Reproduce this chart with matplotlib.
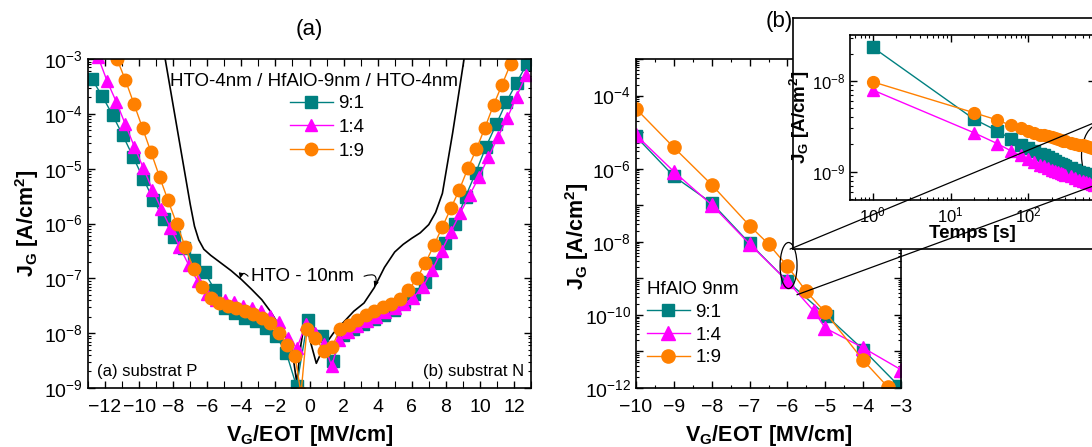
import numpy as np
import matplotlib
matplotlib.use("Agg")
import matplotlib.pyplot as plt
from matplotlib.patches import Ellipse, ConnectionPatch
from matplotlib.ticker import LogLocator, MultipleLocator, NullFormatter, FuncFormatter

plt.rcParams["font.family"] = ["Liberation Sans", "DejaVu Sans"]
plt.rcParams["mathtext.fontset"] = "custom"
plt.rcParams["mathtext.rm"] = "Liberation Sans"
plt.rcParams["mathtext.it"] = "Liberation Sans:italic"
plt.rcParams["mathtext.bf"] = "Liberation Sans:bold"

TEAL, MAG, ORA = "#008080", "#FF00FF", "#FF8000"

# ── panel (a): J_G vs V_G/EOT, values stored as log10(J_G [A/cm2]) ──────────
a91_x = [-12.76, -12.16, -11.56, -10.96, -10.36, -9.76, -9.16, -8.56, -7.96, -7.36,
         -6.76, -6.16, -5.56, -4.96, -4.36, -3.76, -3.16, -2.56, -1.96, -1.36, -0.76,
         -0.1, 0.76, 1.36, 1.96, 2.56, 3.16, 3.76, 4.36, 4.96, 5.56, 6.16, 6.76,
         7.36, 7.96, 8.56, 9.16, 9.76, 10.36, 10.96, 11.56, 12.16, 12.76]
a91_lj = [-3.37, -3.68, -4.02, -4.39, -4.78, -5.18, -5.57, -5.91, -6.24, -6.45,
          -6.67, -6.89, -7.21, -7.54, -7.63, -7.72, -7.78, -7.90, -8.05, -8.36, -8.97,
          -7.76, -8.06, -8.50, -8.03, -7.93, -7.84, -7.75, -7.66, -7.57, -7.44, -7.28, -7.06,
          -6.72, -6.36, -6.00, -5.51, -5.07, -4.60, -4.19, -3.78, -3.43, -3.09]

a14_x = [-12.4, -11.87, -11.34, -10.81, -10.28, -9.75, -9.22, -8.69, -8.16, -7.63,
         -7.1, -6.57, -6.04, -5.51, -4.98, -4.45, -3.92, -3.39, -2.86, -2.33, -1.8,
         -1.27, -0.74, -0.2, 0.35, 0.85, 1.3, 1.75, 2.25, 2.8, 3.35, 3.9, 4.45, 5.0,
         5.55, 6.1, 6.65, 7.2, 7.75, 8.3, 8.85, 9.4, 9.95, 10.5, 11.05, 11.6, 12.15, 12.7]
a14_lj = [-2.97, -3.41, -3.78, -4.19, -4.60, -4.99, -5.38, -5.74, -6.08, -6.42,
          -6.75, -7.05, -7.28, -7.39, -7.40, -7.44, -7.50, -7.54, -7.60, -7.68, -7.80,
          -8.09, -8.27, -7.83, -8.00, -8.20, -8.60, -8.12, -7.97, -7.87, -7.78, -7.70, -7.62, -7.55,
          -7.47, -7.35, -7.15, -6.85, -6.50, -6.15, -5.81, -5.48, -5.15, -4.79, -4.43, -4.08, -3.69, -3.29]

a19_x = [-11.3, -10.8, -10.3, -9.8, -9.3, -8.8, -8.3, -7.8, -7.3, -6.8, -6.3, -5.8,
         -5.3, -4.8, -4.3, -3.8, -3.3, -2.8, -2.3, -1.8, -1.3, -0.85, -0.5, -0.15,
         0.35, 0.85, 1.3, 1.8, 2.3, 2.8, 3.3, 3.8, 4.3, 4.8, 5.3, 5.8, 6.3, 6.8, 7.3,
         7.8, 8.3, 8.8, 9.3, 9.8, 10.3, 10.8, 11.3, 11.8]
a19_lj = [-3.00, -3.39, -3.82, -4.26, -4.70, -5.15, -5.58, -6.00, -6.42, -6.83, -7.15, -7.36,
          -7.45, -7.50, -7.54, -7.60, -7.65, -7.72, -7.82, -8.00, -8.22, -8.42, -9.10, -7.93,
          -8.08, -8.33, -8.26, -7.93, -7.85, -7.76, -7.66, -7.59, -7.53, -7.47, -7.38, -7.22, -7.00, -6.72, -6.40,
          -6.06, -5.72, -5.38, -4.99, -4.64, -4.25, -3.84, -3.47, -3.09]

hto_x = [-8.47, -8.0, -7.5, -7.0, -6.75, -6.5, -6.2, -5.8, -5.2, -4.6, -4.0, -3.4, -2.8,
         -2.3, -1.9, -1.5, -1.2, -1.0, -0.75, -0.5, -0.25, 0.05, 0.4, 0.65, 0.9, 1.4, 2.0,
         2.6, 3.2, 3.8, 4.4, 5.0, 5.5, 6.0, 6.5, 7.0, 7.4, 7.8, 8.1, 8.4, 8.7, 9.07]
hto_lj = [-3.00, -3.85, -4.75, -5.65, -6.05, -6.30, -6.47, -6.58, -6.72, -6.86, -7.02, -7.20, -7.39,
          -7.60, -7.80, -8.00, -8.18, -8.35, -8.90, -8.20, -7.72, -8.15, -8.55, -8.38, -8.22, -8.00, -7.80,
          -7.60, -7.45, -7.17, -6.80, -6.52, -6.38, -6.27, -6.17, -6.02, -5.80, -5.45, -4.90, -4.35, -3.75, -3.00]

# ── panel (b): HfAlO 9nm, negative field ───────────────────────────────────
b91_x = [-10, -9, -8, -7, -6, -4.95, -4, -3.05]
b91_lj = [-5.12, -6.21, -6.94, -8.04, -9.08, -10.04, -10.95, -11.95]
b14_x = [-10, -9, -8, -7, -6, -5.3, -5, -4, -3]
b14_lj = [-5.08, -6.08, -6.99, -8.06, -9.08, -9.90, -10.36, -10.90, -11.50]
b19_x = [-10, -9, -8, -7, -6.5, -6, -5.5, -5, -4, -3.35]
b19_lj = [-4.36, -5.42, -6.44, -7.56, -8.06, -8.67, -9.36, -9.93, -11.24, -11.97]

# ── inset: J_G vs time at -6 MV/cm ─────────────────────────────────────────
t_s = [1, 20, 40, 60, 80, 100, 120, 140, 160, 180, 200, 220, 240, 260, 280, 300,
       350, 400, 450, 500, 550, 600, 650, 700]
in91_lj = [-7.63, -8.42, -8.55, -8.64, -8.70, -8.74, -8.77, -8.80, -8.82, -8.84, -8.86, -8.88,
           -8.90, -8.91, -8.93, -8.94, -8.96, -8.98, -9.00, -9.01, -9.02, -9.03, -9.04, -9.05]
in14_lj = [-8.10, -8.57, -8.69, -8.77, -8.82, -8.86, -8.89, -8.92, -8.94, -8.96, -8.98, -8.99,
           -9.00, -9.01, -9.02, -9.03, -9.05, -9.07, -9.09, -9.10, -9.11, -9.12, -9.13, -9.14]
in19_lj = [-8.01, -8.35, -8.43, -8.49, -8.52, -8.55, -8.57, -8.59, -8.60, -8.61, -8.62, -8.63,
           -8.64, -8.65, -8.66, -8.66, -8.68, -8.69, -8.70, -8.71, -8.72, -8.73, -8.74, -8.74]

LABELS = ["9:1", "1:4", "1:9"]
W, H = 1092, 447
JG_LABEL = "J$_\\mathbf{G}$ [A/cm$^\\mathbf{2}$]"
VG_LABEL = "V$_\\mathbf{G}$/EOT [MV/cm]"


def px_box(l, t, r, b):
    """pixel box (left, top, right, bottom) -> figure fraction rect"""
    return [l / W, 1 - b / H, (r - l) / W, (b - t) / H]


def style_log(ax, size=14):
    ax.set_yscale("log")
    ax.tick_params(which="both", direction="in", top=True, right=True, labelsize=size)
    ax.tick_params(which="major", length=5, width=1)
    ax.tick_params(which="minor", length=2.5, width=0.8)
    ax.tick_params(axis="x", which="both", pad=8)
    ax.yaxis.set_minor_locator(LogLocator(base=10, subs=np.arange(2, 10), numticks=30))
    ax.yaxis.set_minor_formatter(NullFormatter())
    for s in ax.spines.values():
        s.set_linewidth(1.2)


def series(ax, x, lj, label, color, marker, ms, lw=1.0, **kw):
    ax.plot(x, 10 ** np.array(lj), color=color, marker=marker, ms=ms, mec=color,
            lw=lw, label=label, **kw)


def to_axes(ax, x, y):
    return (ax.transScale + ax.transLimits).transform((x, y))


def main():
    fig = plt.figure(figsize=(W / 100, H / 100), dpi=100)

    # ── (a) ─────────────────────────────────────────────────────────────────
    ax = fig.add_axes(px_box(88, 59, 531, 388))
    style_log(ax)
    ax.plot(hto_x, 10 ** np.array(hto_lj), color="k", lw=1.2, zorder=1)
    series(ax, a91_x, a91_lj, LABELS[0], TEAL, "s", 8)
    series(ax, a14_x, a14_lj, LABELS[1], MAG, "^", 9)
    series(ax, a19_x, a19_lj, LABELS[2], ORA, "o", 9)
    ax.set_xlim(-13, 13)
    ax.set_ylim(1e-9, 1e-3)
    ax.xaxis.set_major_locator(MultipleLocator(2))
    ax.xaxis.set_minor_locator(MultipleLocator(1))
    ax.yaxis.set_major_locator(LogLocator(base=10, numticks=20))
    ax.tick_params(which="minor", axis="x", length=5)
    ax.set_xlabel(VG_LABEL, fontsize=15.5, fontweight="bold", labelpad=5)
    ax.set_ylabel(JG_LABEL, fontsize=15.5, fontweight="bold", labelpad=2)
    ax.set_title("(a)", fontsize=16, pad=17)
    ax.text(0.51, 0.933, "HTO-4nm / HfAlO-9nm / HTO-4nm", transform=ax.transAxes,
            ha="center", va="center", fontsize=13.5)
    ax.legend(loc="upper left", bbox_to_anchor=(0.455, 0.89), frameon=False, fontsize=13.5,
              handlelength=2.3, handletextpad=0.3, labelspacing=0.35, borderpad=0,
              borderaxespad=0)
    ax.text(0.02, 0.05, "(a) substrat P", transform=ax.transAxes, fontsize=12, va="center")
    ax.text(0.985, 0.05, "(b) substrat N", transform=ax.transAxes, fontsize=12,
            va="center", ha="right")
    ax.text(-0.4, 10 ** -6.97, "HTO - 10nm", fontsize=13.5, ha="center", va="center")
    arrow = dict(arrowstyle="-|>", lw=0.8, color="k", mutation_scale=7)
    ax.annotate("", xy=(-4.1, 10 ** -7.05), xytext=(-3.5, 10 ** -7.0),
                arrowprops=dict(connectionstyle="arc3,rad=1.2", **arrow))
    ax.annotate("", xy=(3.75, 10 ** -7.2), xytext=(3.05, 10 ** -6.98),
                arrowprops=dict(connectionstyle="arc3,rad=-1.2", **arrow))

    # ── (b) ─────────────────────────────────────────────────────────────────
    bx = fig.add_axes(px_box(636, 59, 901, 388))
    style_log(bx)
    series(bx, b91_x, b91_lj, LABELS[0], TEAL, "s", 8)
    series(bx, b14_x, b14_lj, LABELS[1], MAG, "^", 9.5)
    series(bx, b19_x, b19_lj, LABELS[2], ORA, "o", 9.5)
    bx.set_xlim(-10, -3)
    bx.set_ylim(1e-12, 1e-3)
    bx.xaxis.set_major_locator(MultipleLocator(1))
    bx.xaxis.set_minor_locator(MultipleLocator(0.5))
    bx.yaxis.set_major_locator(LogLocator(base=10, numticks=20))
    bx.yaxis.set_major_formatter(FuncFormatter(
        lambda v, p: "$10^{%d}$" % round(np.log10(v)) if round(np.log10(v)) % 2 == 0 else ""))
    bx.set_xlabel(VG_LABEL, fontsize=15.5, fontweight="bold", labelpad=5)
    bx.set_ylabel(JG_LABEL, fontsize=15.5, fontweight="bold")
    bx.yaxis.set_label_coords(-0.168, 0.46)
    bx.legend(loc="upper left", bbox_to_anchor=(0.04, 0.325), frameon=False, fontsize=13.5,
              title="HfAlO 9nm", title_fontsize=13.5, alignment="left",
              handlelength=2.3, handletextpad=0.3, labelspacing=0.3, borderpad=0,
              borderaxespad=0)
    fig.text(779 / W, 1 - 22 / H, "(b)", fontsize=16, ha="center", va="center")

    cx, cy = to_axes(bx, -5.97, 10 ** -8.65)
    bx.add_patch(Ellipse((cx, cy), 0.064, 0.14, transform=bx.transAxes, fill=False,
                         color="k", lw=0.9, zorder=5))

    # white box holding the inset
    box = fig.add_axes(px_box(793, 18, 1300, 249))
    box.set_xticks([])
    box.set_yticks([])
    box.set_facecolor("white")
    box.set_zorder(2)
    for s in box.spines.values():
        s.set_linewidth(1.2)

    ins = fig.add_axes(px_box(850, 35, 1095, 200))
    ins.set_zorder(3)
    ins.set_xscale("log")
    style_log(ins, size=12)
    ins.tick_params(axis="x", which="both", pad=4)
    series(ins, t_s, in91_lj, LABELS[0], TEAL, "s", 8)
    series(ins, t_s, in14_lj, LABELS[1], MAG, "^", 8.5)
    series(ins, t_s, in19_lj, LABELS[2], ORA, "o", 8.5)
    ins.set_xlim(0.51, 720)
    ins.set_ylim(4.9e-10, 3.2e-8)
    ins.xaxis.set_minor_locator(LogLocator(base=10, subs=np.arange(2, 10), numticks=30))
    ins.xaxis.set_minor_formatter(NullFormatter())
    ins.set_xlabel("Temps [s]", fontsize=13.5, fontweight="bold", labelpad=0)
    ins.set_ylabel(JG_LABEL, fontsize=13.5, fontweight="bold", labelpad=0)
    ins.add_patch(Ellipse((1.02, 0.27), 0.15, 0.38, transform=ins.transAxes, fill=False,
                          color="k", lw=0.9, clip_on=False))

    for (xa, ya), (xb, yb) in [((-5.93, 10 ** -8.2), (10 ** 2.82, 10 ** -8.47)),
                               ((-5.75, 10 ** -9.45), (10 ** 2.82, 10 ** -9.16))]:
        con = ConnectionPatch(xyA=(xa, ya), coordsA=bx.transData,
                              xyB=(xb, yb), coordsB=ins.transData, color="k", lw=0.9)
        con.set_zorder(10)
        fig.add_artist(con)

    fig.savefig("out.png", dpi=100)
    plt.close(fig)


if __name__ == "__main__":
    main()
